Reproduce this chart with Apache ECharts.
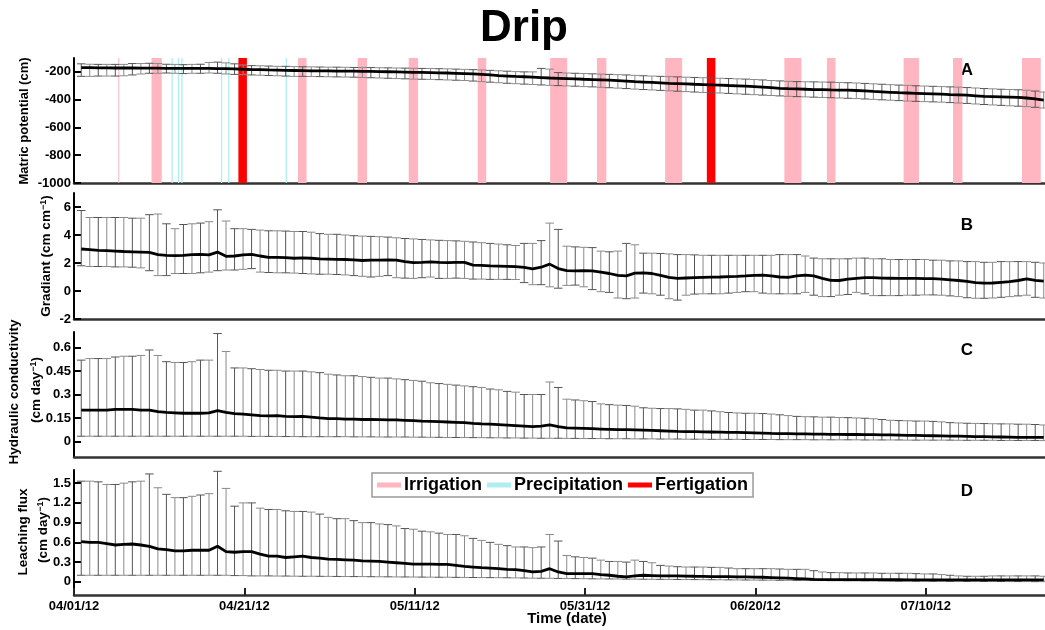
<!DOCTYPE html>
<html><head><meta charset="utf-8">
<script src="https://cdn.jsdelivr.net/npm/echarts@6/dist/echarts.min.js"></script>
<style>html,body{margin:0;padding:0;background:#fff}#c{width:1045px;height:630px}</style>
</head><body><div id="c"></div>
<script>
// ---- data (daily samples, day 0 = 04/01/12) ----
const firstSampleDay = 0.85;
const dateTicks = [0, 20, 40, 60, 80, 100];
const dateLabels = ['04/01/12', '04/21/12', '05/11/12', '05/31/12', '06/20/12', '07/10/12'];

const A_ticks = [-1000, -800, -600, -400, -200];
const B_ticks = [-2, 0, 2, 4, 6];
const C_ticks = [0, 0.15, 0.3, 0.45, 0.6];
const D_ticks = [0, 0.3, 0.6, 0.9, 1.2, 1.5];

// Matric potential (cm)
const A_mean = [-170,-170,-171,-171,-172,-172,-172,-173,-173,-173,
-174,-174,-174,-175,-175,-175,-176,-176,-178,-181,
-183,-184,-186,-187,-189,-190,-191,-192,-193,-193,
-194,-195,-195,-196,-197,-198,-199,-200,-201,-203,
-204,-205,-207,-208,-210,-212,-215,-218,-222,-227,
-230,-233,-235,-238,-241,-244,-246,-248,-250,-253,
-255,-257,-260,-263,-266,-270,-273,-276,-279,-282,
-284,-286,-289,-291,-293,-295,-298,-300,-303,-306,
-310,-314,-318,-321,-323,-325,-327,-328,-330,-331,
-332,-334,-337,-341,-344,-347,-350,-352,-354,-356,
-358,-360,-363,-365,-368,-372,-376,-378,-380,-382,
-384,-388,-395,-403];
const A_hi = [-142,-145,-146,-146,-146,-146,-140,-140,-138,-140,
-145,-146,-148,-146,-145,-132,-130,-135,-142,-150,
-155,-156,-158,-160,-160,-162,-163,-164,-165,-166,
-166,-167,-168,-168,-169,-170,-171,-172,-173,-174,
-175,-176,-177,-178,-180,-182,-184,-186,-189,-192,
-195,-198,-200,-200,-175,-180,-205,-208,-210,-212,
-214,-216,-218,-220,-222,-225,-228,-230,-232,-234,
-236,-238,-240,-242,-244,-246,-248,-250,-252,-255,
-258,-262,-265,-268,-270,-271,-272,-273,-274,-276,
-278,-280,-283,-286,-289,-292,-295,-297,-300,-302,
-304,-306,-308,-310,-313,-316,-320,-322,-325,-327,
-329,-332,-338,-345];
const A_lo = [-232,-232,-230,-230,-230,-228,-222,-215,-210,-210,
-208,-210,-212,-210,-210,-208,-210,-215,-218,-220,
-222,-224,-226,-228,-230,-232,-232,-233,-234,-235,
-236,-237,-238,-240,-242,-244,-246,-248,-250,-252,
-253,-254,-256,-258,-260,-262,-266,-270,-274,-278,
-282,-285,-288,-291,-294,-297,-299,-301,-303,-306,
-308,-311,-314,-317,-320,-324,-327,-330,-333,-336,
-339,-342,-345,-348,-350,-352,-355,-358,-361,-364,
-367,-370,-373,-376,-378,-380,-382,-384,-386,-388,
-390,-392,-395,-398,-401,-404,-407,-410,-412,-414,
-416,-418,-421,-424,-427,-431,-435,-438,-441,-444,
-447,-450,-455,-460];

// Gradient (cm cm-1)
const B_mean = [3.0,2.95,2.9,2.88,2.85,2.82,2.8,2.78,2.76,2.6,
2.55,2.52,2.55,2.6,2.62,2.58,2.78,2.48,2.5,2.58,
2.62,2.5,2.4,2.4,2.38,2.34,2.36,2.34,2.3,2.28,
2.26,2.25,2.22,2.18,2.2,2.2,2.22,2.2,2.1,2.03,
2.05,2.08,2.05,2.03,2.05,2.05,1.85,1.83,1.8,1.78,
1.76,1.74,1.68,1.58,1.7,1.92,1.6,1.45,1.44,1.45,
1.44,1.35,1.25,1.12,1.08,1.28,1.3,1.25,1.12,0.98,
0.9,0.93,0.96,0.98,0.99,1.0,1.03,1.05,1.08,1.12,
1.14,1.08,1.0,0.98,1.08,1.14,1.08,0.9,0.76,0.75,
0.85,0.9,0.95,0.95,0.92,0.91,0.9,0.9,0.9,0.89,
0.88,0.85,0.8,0.75,0.68,0.6,0.56,0.57,0.62,0.67,
0.75,0.86,0.76,0.7];
const B_hi = [5.75,5.25,5.25,5.25,5.25,5.25,5.2,5.2,5.45,5.5,
4.8,4.45,4.75,4.8,4.85,4.95,5.8,5.0,4.45,4.45,
4.4,4.35,4.3,4.3,4.28,4.25,4.25,4.2,4.1,4.05,
4.05,4.0,3.95,3.92,3.9,3.88,3.85,3.8,3.75,3.72,
3.68,3.65,3.62,3.6,3.58,3.55,3.5,3.45,3.4,3.35,
3.3,3.25,3.4,3.4,3.6,4.85,4.4,3.2,3.15,3.12,
3.1,2.85,2.8,2.85,3.4,3.3,2.7,2.7,2.68,2.65,
2.6,2.6,2.58,2.55,2.55,2.55,2.55,2.55,2.55,2.55,
2.55,2.55,2.6,2.6,2.6,2.5,2.35,2.3,2.3,2.3,
2.3,2.35,2.35,2.3,2.3,2.25,2.25,2.25,2.25,2.25,
2.2,2.2,2.15,2.15,2.1,2.1,2.05,2.05,2.1,2.1,
2.1,2.1,2.05,2.0];
const B_lo = [1.8,1.75,1.75,1.75,1.72,1.72,1.7,1.65,1.45,1.1,
1.1,1.25,1.25,1.25,1.3,1.35,1.45,1.5,1.5,1.55,
1.6,1.35,1.32,1.3,1.3,1.28,1.25,1.22,1.2,1.2,
1.18,1.15,1.1,1.05,1.0,1.05,1.1,0.95,0.92,0.9,
0.95,1.0,0.9,0.9,0.92,0.9,0.85,0.85,0.83,0.83,
0.83,0.82,0.6,0.45,0.45,0.3,0.2,0.4,0.42,0.3,
0.1,-0.05,-0.1,-0.5,-0.55,-0.5,-0.15,-0.2,-0.3,-0.55,
-0.65,-0.3,-0.22,-0.2,-0.2,-0.2,-0.15,-0.1,-0.05,-0.05,
-0.15,-0.2,-0.2,-0.2,-0.2,-0.1,-0.3,-0.4,-0.4,-0.3,
-0.25,-0.1,-0.2,-0.33,-0.33,-0.33,-0.33,-0.3,-0.3,-0.28,
-0.28,-0.3,-0.35,-0.4,-0.48,-0.52,-0.52,-0.5,-0.45,-0.4,
-0.35,-0.3,-0.45,-0.5];

// Hydraulic conductivity (cm day-1)
const C_mean = [0.2,0.2,0.2,0.2,0.205,0.205,0.205,0.2,0.2,0.19,
0.186,0.183,0.18,0.18,0.18,0.183,0.197,0.185,0.178,0.175,
0.17,0.165,0.163,0.165,0.16,0.158,0.16,0.155,0.15,0.146,
0.145,0.143,0.142,0.14,0.14,0.139,0.138,0.137,0.135,0.133,
0.13,0.128,0.126,0.124,0.122,0.12,0.115,0.112,0.11,0.107,
0.104,0.101,0.098,0.095,0.098,0.105,0.095,0.087,0.085,0.083,
0.081,0.079,0.077,0.075,0.075,0.074,0.072,0.07,0.068,0.066,
0.064,0.063,0.062,0.061,0.06,0.059,0.058,0.057,0.056,0.055,
0.053,0.051,0.05,0.049,0.048,0.048,0.047,0.046,0.045,0.045,
0.044,0.044,0.043,0.043,0.042,0.041,0.04,0.039,0.038,0.037,
0.036,0.035,0.034,0.033,0.032,0.031,0.03,0.029,0.028,0.027,
0.026,0.026,0.025,0.025];
const C_hi = [0.52,0.53,0.53,0.53,0.54,0.545,0.545,0.55,0.585,0.55,
0.51,0.505,0.505,0.51,0.52,0.52,0.69,0.575,0.47,0.47,
0.465,0.46,0.455,0.455,0.45,0.45,0.45,0.445,0.44,0.43,
0.425,0.42,0.42,0.415,0.41,0.405,0.405,0.4,0.395,0.39,
0.385,0.375,0.37,0.365,0.36,0.355,0.35,0.345,0.335,0.33,
0.32,0.315,0.3,0.3,0.3,0.38,0.345,0.27,0.265,0.26,
0.255,0.24,0.235,0.232,0.23,0.225,0.215,0.212,0.21,0.21,
0.208,0.205,0.2,0.2,0.195,0.19,0.185,0.182,0.18,0.18,
0.178,0.175,0.17,0.165,0.16,0.158,0.157,0.155,0.155,0.153,
0.152,0.15,0.148,0.145,0.14,0.135,0.133,0.132,0.13,0.13,
0.128,0.125,0.12,0.118,0.116,0.115,0.114,0.113,0.112,0.112,
0.11,0.11,0.108,0.105];
const C_lo = [0.033,0.033,0.033,0.033,0.033,0.033,0.033,0.033,0.033,0.033,
0.033,0.033,0.033,0.033,0.033,0.033,0.033,0.033,0.033,0.033,
0.032,0.032,0.032,0.031,0.031,0.031,0.03,0.03,0.03,0.03,
0.03,0.03,0.029,0.029,0.029,0.028,0.028,0.028,0.028,0.027,
0.027,0.026,0.026,0.025,0.025,0.025,0.024,0.024,0.023,0.023,
0.022,0.022,0.021,0.021,0.02,0.02,0.02,0.019,0.019,0.018,
0.018,0.018,0.017,0.017,0.017,0.016,0.016,0.016,0.015,0.015,
0.015,0.014,0.014,0.014,0.013,0.013,0.013,0.013,0.012,0.012,
0.012,0.012,0.011,0.011,0.011,0.011,0.01,0.01,0.01,0.01,
0.01,0.01,0.009,0.009,0.009,0.009,0.009,0.008,0.008,0.008,
0.008,0.008,0.008,0.007,0.007,0.007,0.007,0.007,0.006,0.006,
0.006,0.006,0.006,0.005];

// Leaching flux (cm day-1)
const D_mean = [0.61,0.6,0.6,0.58,0.56,0.57,0.575,0.56,0.54,0.5,
0.49,0.47,0.47,0.48,0.48,0.48,0.54,0.46,0.45,0.46,
0.46,0.42,0.39,0.39,0.37,0.38,0.39,0.37,0.36,0.345,
0.34,0.335,0.33,0.32,0.315,0.31,0.3,0.29,0.28,0.27,
0.27,0.268,0.266,0.265,0.25,0.235,0.225,0.215,0.21,0.2,
0.19,0.185,0.17,0.15,0.16,0.2,0.15,0.125,0.125,0.125,
0.125,0.11,0.1,0.085,0.075,0.09,0.1,0.095,0.09,0.09,
0.09,0.088,0.085,0.083,0.08,0.08,0.078,0.076,0.075,0.072,
0.07,0.065,0.06,0.055,0.05,0.045,0.038,0.035,0.035,0.035,
0.035,0.034,0.034,0.033,0.033,0.032,0.032,0.031,0.031,0.03,
0.03,0.03,0.03,0.03,0.03,0.03,0.03,0.03,0.03,0.03,
0.03,0.03,0.03,0.03];
const D_hi = [1.53,1.53,1.52,1.48,1.48,1.5,1.52,1.53,1.64,1.43,
1.33,1.28,1.28,1.3,1.32,1.34,1.68,1.42,1.15,1.2,
1.2,1.12,1.1,1.1,1.08,1.07,1.07,1.06,1.03,0.98,
0.96,0.96,0.93,0.9,0.9,0.88,0.87,0.85,0.81,0.8,
0.77,0.76,0.74,0.72,0.72,0.7,0.66,0.63,0.6,0.57,
0.55,0.53,0.53,0.52,0.53,0.72,0.62,0.4,0.38,0.37,
0.36,0.33,0.31,0.31,0.3,0.33,0.31,0.29,0.25,0.24,
0.23,0.225,0.225,0.225,0.22,0.22,0.21,0.2,0.2,0.2,
0.2,0.2,0.195,0.19,0.19,0.19,0.17,0.15,0.14,0.14,
0.135,0.135,0.135,0.135,0.13,0.13,0.13,0.13,0.125,0.12,
0.12,0.11,0.1,0.09,0.085,0.085,0.085,0.09,0.09,0.09,
0.09,0.09,0.09,0.085];
const D_lo = [0.1,0.1,0.1,0.1,0.1,0.1,0.1,0.1,0.1,0.1,
0.1,0.1,0.1,0.1,0.1,0.1,0.1,0.1,0.095,0.095,
0.09,0.09,0.09,0.088,0.088,0.086,0.085,0.085,0.084,0.083,
0.082,0.081,0.08,0.08,0.078,0.077,0.076,0.075,0.074,0.073,
0.072,0.071,0.07,0.07,0.068,0.067,0.066,0.065,0.064,0.063,
0.062,0.06,0.058,0.056,0.055,0.054,0.052,0.05,0.049,0.048,
0.046,0.045,0.044,0.043,0.042,0.041,0.04,0.039,0.038,0.037,
0.036,0.035,0.034,0.033,0.032,0.031,0.03,0.029,0.028,0.027,
0.026,0.025,0.024,0.023,0.022,0.021,0.02,0.019,0.018,0.017,
0.016,0.015,0.014,0.013,0.012,0.011,0.01,0.01,0.009,0.009,
0.008,0.008,0.007,0.007,0.006,0.006,0.005,0.005,0.005,0.004,
0.004,0.004,0.003,0.003];

// Events [start day, end day]
const irrigation = [[5.2,5.32],[9.1,10.3],[26.3,27.3],[33.3,34.4],[39.3,40.4],[47.4,48.4],[55.9,57.9],[61.4,62.5],
  [69.4,71.4],[83.4,85.4],[88.4,89.4],[97.4,99.2],[103.2,104.3],[111.3,113.5]];
const precipitation = [[11.45,11.6],[12.2,12.35],[12.6,12.75],[17.25,17.4],[18.1,18.25],[24.85,25.0]];
const fertigation = [[19.3,20.3],[74.3,75.3]];

// ---- chart ----
const FONT = 'Liberation Sans, Arial, sans-serif';
const days = A_mean.map((_, i) => firstSampleDay + i);
const chart = echarts.init(document.getElementById('c'), null, {renderer: 'canvas'});

const grids = [
  {left: 74, right: 0, top: 58, height: 125},
  {left: 74, right: 0, top: 193, height: 126},
  {left: 74, right: 0, top: 332, height: 125},
  {left: 74, right: 0, top: 470, height: 125}
];
const yDefs = [
  {min: -1000, max: -100, ticks: A_ticks},
  {min: -2, max: 7, ticks: B_ticks},
  {min: -0.1, max: 0.7, ticks: C_ticks},
  {min: -0.2, max: 1.7, ticks: D_ticks}
];
const panels = [
  {mean: A_mean, hi: A_hi, lo: A_lo},
  {mean: B_mean, hi: B_hi, lo: B_lo},
  {mean: C_mean, hi: C_hi, lo: C_lo},
  {mean: D_mean, hi: D_hi, lo: D_lo}
];

const xAxes = grids.map((g, i) => ({
  type: 'value', gridIndex: i, min: 0, max: 114,
  axisLine: {show: true, onZero: false, lineStyle: {color: '#333', width: 2.5}},
  axisTick: {show: i === 3, inside: true, length: 7, lineStyle: {color: '#222', width: 2}, customValues: dateTicks},
  axisLabel: {show: i === 3, customValues: dateTicks, margin: 5,
    formatter: v => dateLabels[dateTicks.indexOf(v)] || '',
    color: '#000', fontWeight: 'bold', fontSize: 13, fontFamily: FONT},
  splitLine: {show: false}
}));
const yAxes = yDefs.map((d, i) => ({
  type: 'value', gridIndex: i, min: d.min, max: d.max,
  axisLine: {show: true, onZero: false, lineStyle: {color: '#000', width: 2}},
  axisTick: {show: true, inside: true, length: 7, lineStyle: {color: '#000', width: 2}, customValues: d.ticks},
  axisLabel: {customValues: d.ticks, margin: 3, formatter: v => String(v),
    color: '#000', fontWeight: 'bold', fontSize: 13, fontFamily: FONT},
  splitLine: {show: false}
}));

function eventSeries(name, list, color) {
  return {
    name, type: 'custom', xAxisIndex: 0, yAxisIndex: 0, z: 1,
    itemStyle: {color},
    encode: {x: [0, 1], y: 2},
    data: list.map(e => [e[0], e[1], -500]),
    renderItem: (params, api) => {
      const s = api.coord([api.value(0), -500]);
      const e = api.coord([api.value(1), -500]);
      const cs = params.coordSys;
      return {type: 'rect', shape: {x: s[0], y: cs.y, width: Math.max(e[0] - s[0], 1), height: cs.height},
        style: {fill: color}};
    }
  };
}

const series = [
  eventSeries('Irrigation', irrigation, '#ffb6c1'),
  eventSeries('Precipitation', precipitation, '#afeeee'),
  eventSeries('Fertigation', fertigation, '#ff0000')
];

panels.forEach((p, i) => {
  series.push({
    type: 'custom', xAxisIndex: i, yAxisIndex: i, z: 2, silent: true,
    encode: {x: 0, y: [1, 2]},
    data: p.lo.map((v, k) => [days[k], v, p.hi[k]]),
    renderItem: (params, api) => {
      const x = api.value(0);
      const lo = api.coord([x, api.value(1)]);
      const hi = api.coord([x, api.value(2)]);
      const hw = api.size([1, 0])[0] * 0.5;
      const st = {stroke: params.dataIndex % 2 ? '#8a8a8a' : '#555', lineWidth: 1};
      return {type: 'group', children: [
        {type: 'line', shape: {x1: lo[0], y1: lo[1], x2: hi[0], y2: hi[1]}, style: st},
        {type: 'line', shape: {x1: hi[0] - hw, y1: hi[1], x2: hi[0] + hw, y2: hi[1]}, style: st},
        {type: 'line', shape: {x1: lo[0] - hw, y1: lo[1], x2: lo[0] + hw, y2: lo[1]}, style: st}
      ]};
    }
  });
  series.push({
    type: 'line', xAxisIndex: i, yAxisIndex: i, z: 3, silent: true,
    showSymbol: false, symbol: 'none',
    lineStyle: {color: '#000', width: 2.8},
    data: p.mean.map((v, k) => [days[k], v])
  });
});

function vtext(x, y, text, size) {
  return {type: 'text', x, y, rotation: Math.PI / 2, silent: true,
    style: {text, fill: '#000', font: 'bold ' + size + 'px ' + FONT, align: 'center', verticalAlign: 'middle',
      rich: {s: {fontSize: 9, fontWeight: 'bold', fontFamily: FONT, verticalAlign: 'top', lineHeight: 14}}}};
}
function label(x, y, text, size) {
  return {type: 'text', x, y, silent: true,
    style: {text, fill: '#000', font: 'bold ' + size + 'px ' + FONT, align: 'center', verticalAlign: 'middle'}};
}

const option = {
  animation: false,
  backgroundColor: '#fff',
  title: {text: 'Drip', left: 519, top: 2, textAlign: 'center',
    textStyle: {fontSize: 44, fontWeight: 'bold', fontFamily: FONT, color: '#000'}},
  legend: {
    data: ['Irrigation', 'Precipitation', 'Fertigation'],
    left: 372, top: 473, orient: 'horizontal',
    icon: 'rect', itemWidth: 24, itemHeight: 5, itemGap: 5,
    padding: [3, 5], borderColor: '#999', borderWidth: 1.5, backgroundColor: '#fff',
    textStyle: {fontSize: 18, fontWeight: 'bold', fontFamily: FONT, color: '#000', padding: [0, 0, 0, -2]},
    selectedMode: false
  },
  grid: grids,
  xAxis: xAxes,
  yAxis: yAxes,
  series,
  graphic: [
    vtext(24, 121, 'Matric potential (cm)', 13),
    vtext(46, 256, 'Gradiant (cm cm{s|\u22121})', 13.5),
    vtext(14, 392, 'Hydraulic conductivity', 13.5),
    vtext(36, 390, '(cm day{s|\u22121})', 13.5),
    vtext(23, 532, 'Leaching flux', 13.5),
    vtext(43, 530, '(cm day{s|\u22121})', 13.5),
    label(967, 70, 'A', 17),
    label(967, 225, 'B', 17),
    label(967, 350, 'C', 17),
    label(967, 491, 'D', 17),
    label(567, 619, 'Time (date)', 15)
  ]
};
chart.setOption(option);
</script>
</body></html>
